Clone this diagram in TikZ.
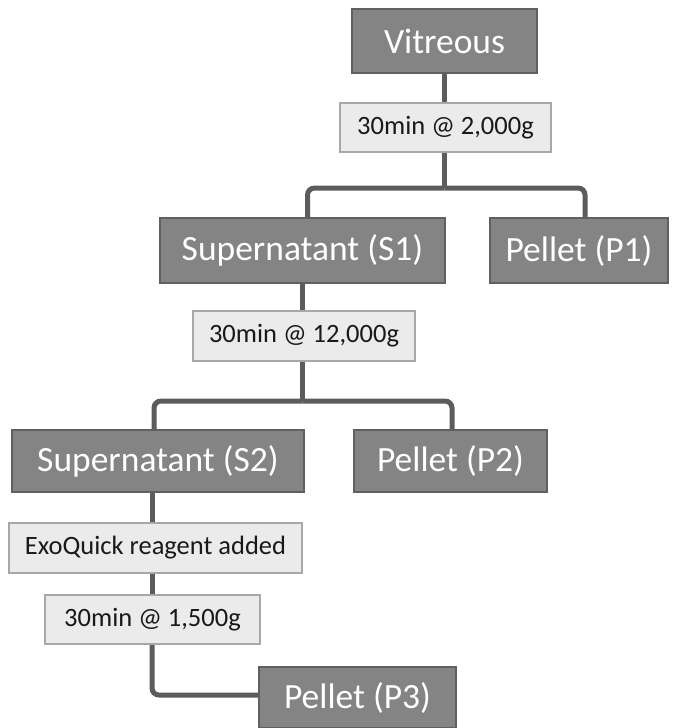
\documentclass[tikz,border=0pt]{standalone}
\usepackage{fontspec}
\setmainfont{Carlito}
\definecolor{darkbox}{HTML}{848484}
\definecolor{darkedge}{HTML}{606060}
\definecolor{lightbox}{HTML}{EBEBEB}
\definecolor{lightedge}{HTML}{A8A8A8}
\definecolor{linec}{HTML}{5C5C5C}
\tikzset{
  bigbox/.style={draw=darkedge, fill=darkbox, line width=2pt, text=white, font=\fontsize{35.5}{40}\selectfont, inner sep=0pt},
  stepbox/.style={draw=lightedge, fill=lightbox, line width=2pt, text=black!90, font=\fontsize{26.5}{30}\selectfont, inner sep=0pt},
  conn/.style={draw=linec, line width=5pt, rounded corners=7pt}
}
\begin{document}
\begin{tikzpicture}[x=1pt,y=-1pt]
\useasboundingbox (0,0) rectangle (673,728);
\node[bigbox, minimum width=185pt, minimum height=64pt] (vit) at (444.5,41) {Vitreous};
\node[stepbox, minimum width=211pt, minimum height=49pt] (g1) at (445.5,127.5) {30min @ 2,000g};
\node[bigbox, minimum width=285pt, minimum height=65pt] (s1) at (302.5,250.5) {Supernatant (S1)};
\node[bigbox, minimum width=178pt, minimum height=65pt] (p1) at (579,250.5) {Pellet (P1)};
\node[stepbox, minimum width=222pt, minimum height=50pt] (g2) at (304,336) {30min @ 12,000g};
\node[bigbox, minimum width=292pt, minimum height=62pt] (s2) at (158,461) {Supernatant (S2)};
\node[bigbox, minimum width=193pt, minimum height=62pt] (p2) at (450.5,461) {Pellet (P2)};
\node[stepbox, minimum width=293pt, minimum height=50pt] (exo) at (155.5,548) {ExoQuick reagent added};
\node[stepbox, minimum width=215pt, minimum height=49pt] (g3) at (152.5,619.5) {30min @ 1,500g};
\node[bigbox, minimum width=197pt, minimum height=61pt] (p3) at (357.5,697.5) {Pellet (P3)};

\draw[conn] (vit.south) -- (vit.south |- g1.north);
\draw[conn] (g1.south -| vit.south) -- ++(0,35) coordinate (b1);
\draw[conn] (b1) -| ([xshift=5pt]s1.north);
\draw[conn] (b1) -| ([xshift=6pt]p1.north);
\draw[conn] (s1.south) -- (s1.south |- g2.north);
\draw[conn] (g2.south -| s1.south) -- ++(0,39) coordinate (b2);
\draw[conn] (b2) -| ([xshift=-4pt]s2.north);
\draw[conn] (b2) -| ([xshift=1.5pt]p2.north);
\draw[conn] ([xshift=-6pt]s2.south) coordinate (d3) -- (d3 |- exo.north);
\draw[conn] (exo.south -| d3) -- (g3.north -| d3);
\draw[conn] (g3.south -| d3) |- ([yshift=2.5pt]p3.west);
\end{tikzpicture}
\end{document}
